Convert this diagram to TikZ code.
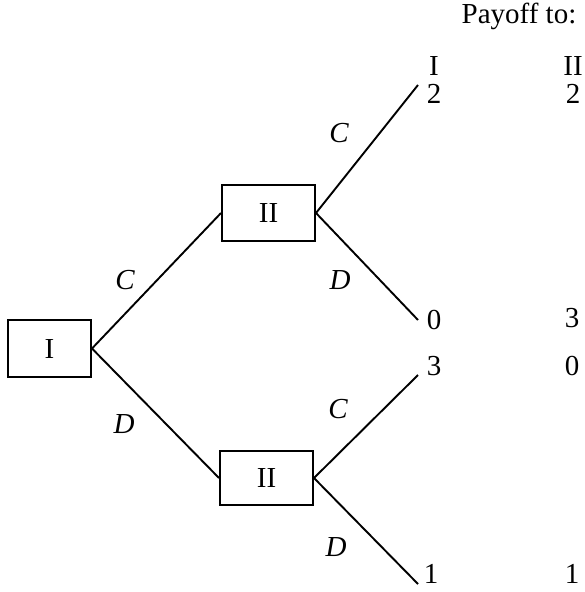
\documentclass[tikz,border=0pt]{standalone}
\usepackage{fontspec}
\setmainfont{Liberation Serif}
\begin{document}
\begin{tikzpicture}[x=1pt,y=-1pt,
  box/.style={draw, line width=2pt, minimum width=83pt, minimum height=57pt, inner sep=0pt,
    font=\fontsize{29}{31}\selectfont},
  edge/.style={line width=1.9pt},
  lab/.style={font=\fontsize{29}{31}\selectfont\itshape, inner sep=0pt},
  num/.style={font=\fontsize{29}{31}\selectfont, inner sep=0pt}]
\useasboundingbox (0,0) rectangle (584,592);
\node[box] (I) at (49.5,348.5) {I};
\node[box, minimum width=93pt, minimum height=56pt] (IIa) at (268.5,213) {II};
\node[box, minimum width=93pt, minimum height=54pt] (IIb) at (266.5,478) {II};
\coordinate (e1) at (418,85);
\coordinate (e2) at (418,320);
\coordinate (e3) at (418,375);
\coordinate (e4) at (418,584);
\draw[edge] (I.east) -- (IIa.west);
\draw[edge] (I.east) -- (IIb.west);
\draw[edge] (IIa.east) -- (e1);
\draw[edge] (IIa.east) -- (e2);
\draw[edge] (IIb.east) -- (e3);
\draw[edge] (IIb.east) -- (e4);
\node[lab] (c0) at (125,280) {C};
\node[lab] (d0) at (124,424) {D};
\node[lab] (c1) at (339,133) {C};
\node[lab] (d1) at (340,280) {D};
\node[lab] (c2) at (338,409) {C};
\node[lab] (d2) at (336,547) {D};
\node[num] (pay) at (519,16) {Payoff to:};
\node[num] (hI) at (434,66) {I};
\node[num] (hII) at (573,66) {II};
\node[num] (a1) at (434,94) {2};
\node[num] (b1) at (573,94) {2};
\node[num] (a2) at (434,320) {0};
\node[num] (b2) at (572,318) {3};
\node[num] (a3) at (434,366) {3};
\node[num] (b3) at (572,366) {0};
\node[num] (a4) at (431,574) {1};
\node[num] (b4) at (572,574) {1};
\end{tikzpicture}
\end{document}
